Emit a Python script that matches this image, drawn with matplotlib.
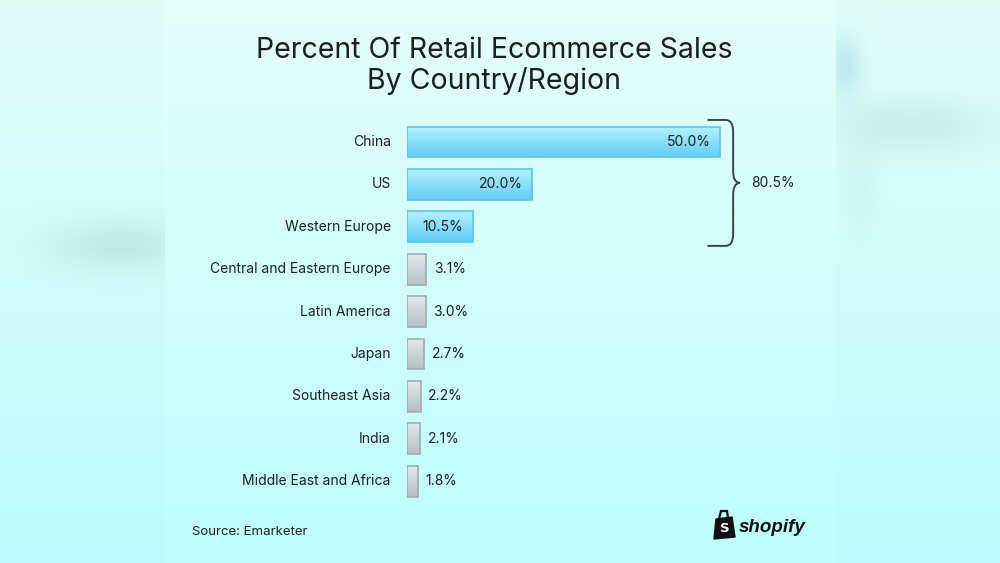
import numpy as np
import matplotlib
matplotlib.use("Agg")
import matplotlib.pyplot as plt
from matplotlib.path import Path
from matplotlib.patches import PathPatch, Polygon
from matplotlib.colors import LinearSegmentedColormap

# ── data ──────────────────────────────────────────────────────────────────────
regions = ["China", "US", "Western Europe", "Central and Eastern Europe",
           "Latin America", "Japan", "Southeast Asia", "India",
           "Middle East and Africa"]
shares = [50.0, 20.0, 10.5, 3.1, 3.0, 2.7, 2.2, 2.1, 1.8]
n_top = 3  # highlighted group (bracketed)

title = "Percent Of Retail Ecommerce Sales\nBy Country/Region"
source = "Source: Emarketer"

TXT = "#1b1f22"
FONT = ["Inter", "DejaVu Sans"]
plt.rcParams["font.family"] = FONT

W, H = 1000, 563
fig = plt.figure(figsize=(10, 5.63), dpi=100)

# ── background ────────────────────────────────────────────────────────────────
yy, xx = np.mgrid[0:H, 0:W].astype(float)
t = yy / (H - 1)
top = np.array([226, 253, 248]) / 255
bot = np.array([188, 252, 253]) / 255
bg = top[None, None, :] * (1 - t[..., None]) + bot[None, None, :] * t[..., None]

outside = (xx < 165) | (xx > 835)

def blob(cx, cy, sx, sy, color, strength):
    g = np.exp(-(((xx - cx) / sx) ** 2 + ((yy - cy) / sy) ** 2))
    g = g * outside * strength
    c = np.array(color) / 255
    return g[..., None], c

for cx, cy, sx, sy, col, s in [
    (120, 245, 65, 24, (170, 215, 212), 0.5),
    (910, 125, 80, 28, (178, 218, 216), 0.4),
    (845, 65, 16, 30, (140, 205, 225), 0.4),
    (860, 190, 18, 45, (182, 222, 220), 0.2),
]:
    g, c = blob(cx, cy, sx, sy, col, s)
    bg = bg * (1 - g) + c[None, None, :] * g

# panel slightly lighter than the outer area
panel = ~outside
bg[panel] = np.clip(bg[panel] + 0.008, 0, 1)

ax_bg = fig.add_axes([0, 0, 1, 1], zorder=-1)
ax_bg.imshow(bg, extent=[0, 1, 0, 1], aspect="auto", interpolation="bilinear")
ax_bg.axis("off")

# ── bars ──────────────────────────────────────────────────────────────────────
px_per_unit = 313 / 50.0
x0_px = 407
row_px = 42.4
ax_w_px = 60 * px_per_unit
ax_top_px = 142 - row_px / 2
ax_h_px = row_px * len(regions)
ax = fig.add_axes([x0_px / W, 1 - (ax_top_px + ax_h_px) / H,
                   ax_w_px / W, ax_h_px / H])
ax.set_xlim(0, 60)
ax.set_ylim(len(regions) - 0.5, -0.5)
ax.axis("off")

ypos = np.arange(len(regions))
bars = ax.barh(ypos, shares, height=0.73, color="none", zorder=2)

grad = np.linspace(0, 1, 64)[:, None]
blue_cmap = LinearSegmentedColormap.from_list("b", ["#b4f1ff", "#62cdf6"])
gray_cmap = LinearSegmentedColormap.from_list("g", ["#e2e9eb", "#b5c1c5"])

for i, (b, v) in enumerate(zip(bars, shares)):
    x, y = b.get_x(), b.get_y()
    w, h = b.get_width(), b.get_height()
    hi = i < n_top
    cmap = blue_cmap if hi else gray_cmap
    edge = "#5cc3ec" if hi else "#a2acaf"
    im = ax.imshow(grad, cmap=cmap, aspect="auto",
                   extent=[x, x + w, y + h, y], zorder=1)
    im.set_clip_path(b)
    b.set_edgecolor(edge)
    b.set_linewidth(1.2)
    lab = f"{v:.1f}%"
    if hi:
        ax.text(v - 1.5, i, lab, ha="right", va="center", fontsize=10,
                color=TXT, zorder=3)
    else:
        ax.text(v + 1.2, i, lab, ha="left", va="center", fontsize=10,
                color=TXT, zorder=3)
    ax.text(-2.6, i, regions[i], ha="right", va="center", fontsize=10,
            color=TXT, clip_on=False)

# ── bracket round the top group ───────────────────────────────────────────────
bx0 = shares[0] - 2.0
bx1 = shares[0] + 2.1
bx2 = shares[0] + 3.2
ytop, ybot = -0.52, n_top - 1 + 0.45
ymid = (ytop + ybot) / 2
rx, ry = 1.2, 0.28
verts = [(bx0, ytop), (bx1 - rx, ytop), (bx1, ytop), (bx1, ytop + ry),
         (bx1, ymid - ry), (bx1, ymid), (bx2, ymid),
         (bx1, ymid), (bx1, ymid + ry),
         (bx1, ybot - ry), (bx1, ybot), (bx1 - rx, ybot), (bx0, ybot)]
codes = [Path.MOVETO, Path.LINETO, Path.CURVE3, Path.CURVE3,
         Path.LINETO, Path.CURVE3, Path.CURVE3,
         Path.CURVE3, Path.CURVE3,
         Path.LINETO, Path.CURVE3, Path.CURVE3, Path.LINETO]
ax.add_patch(PathPatch(Path(verts, codes), fill=False, edgecolor="#3b4448",
                       linewidth=1.4, clip_on=False, zorder=3))
ax.text(bx2 + 1.8, ymid, f"{sum(shares[:n_top]):.1f}%", ha="left",
        va="center", fontsize=10, color=TXT)

# ── titles and footer ─────────────────────────────────────────────────────────
fig.text(0.494, 1 - 66 / H, title, ha="center", va="center", fontsize=20.5,
         color=TXT, linespacing=1.12)
fig.text(192 / W, 1 - 532 / H, source, ha="left", va="center", fontsize=9.5,
         color=TXT)

# shopify mark: bag + wordmark
bag = Polygon([(714 / W, 1 - 539 / H), (716 / W, 1 - 519 / H),
               (732 / W, 1 - 517 / H), (735 / W, 1 - 537 / H)],
              closed=True, transform=fig.transFigure, facecolor="#111",
              edgecolor="#111", linewidth=1, joinstyle="round")
fig.patches.append(bag)
handle = PathPatch(Path([(719 / W, 1 - 519 / H), (721 / W, 1 - 511 / H),
                         (727 / W, 1 - 511 / H), (728 / W, 1 - 518 / H)]),
                   transform=fig.transFigure, fill=False, edgecolor="#111",
                   linewidth=1.6)
fig.patches.append(handle)
fig.text(724.5 / W, 1 - 529 / H, "S", ha="center", va="center", fontsize=9.5,
         color="white", fontweight="bold", family=["DejaVu Sans"])
fig.text(739 / W, 1 - 528 / H, "shopify", ha="left", va="center",
         fontsize=13.5, fontweight="bold", style="italic", color="#111",
         family=["Liberation Sans", "DejaVu Sans"])

fig.savefig("out.png", dpi=100)
